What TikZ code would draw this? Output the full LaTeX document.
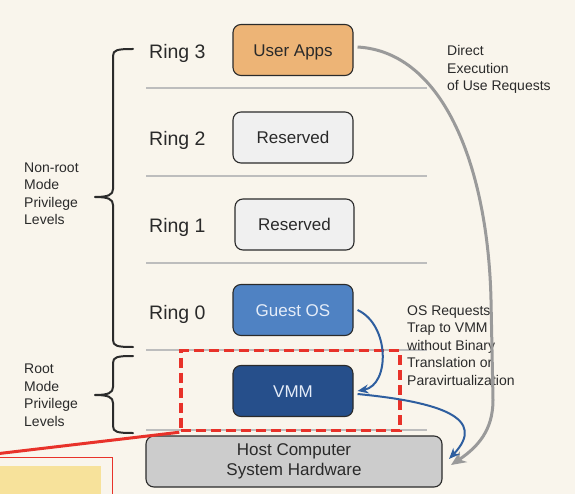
\documentclass[tikz,border=0pt]{standalone}
\usepackage{fontspec}
\setmainfont{Liberation Sans}
\usetikzlibrary{arrows.meta}
\definecolor{bg}{HTML}{F9F5EC}
\definecolor{sepc}{HTML}{BDBDBD}
\definecolor{userc}{HTML}{EDB476}
\definecolor{resc}{HTML}{F0F0F0}
\definecolor{guestc}{HTML}{4F82C3}
\definecolor{vmmc}{HTML}{264F8B}
\definecolor{hostc}{HTML}{CCCCCC}
\definecolor{edgec}{HTML}{2B2B2B}
\definecolor{redc}{HTML}{E8322A}
\definecolor{bluearr}{HTML}{2E5E9F}
\definecolor{grayarr}{HTML}{9A9A9A}
\definecolor{yelc}{HTML}{F7E29B}
\definecolor{txtc}{HTML}{2A2A2A}
\definecolor{lighttxt}{HTML}{E4ECF8}
\begin{document}
\begin{tikzpicture}[x=1pt,y=-1pt,
  ringlbl/.style={anchor=west,inner sep=0pt,text=txtc,font=\fontsize{19.5}{22}\selectfont},
  boxnode/.style={draw=edgec,line width=1.1pt,rounded corners=8pt,minimum width=120pt,minimum height=51pt,inner sep=0pt,font=\fontsize{17}{20}\selectfont,text=txtc},
  onelinebox/.style={boxnode,text height=12.2pt,text depth=0pt},
  sidelbl/.style={anchor=west,inner sep=0pt,align=left,text=txtc,font=\fontsize{14}{17.5}\selectfont},
  sepline/.style={draw=sepc,line width=2pt},
  bracestyle/.style={draw=edgec,line width=2pt,line cap=round,line join=round},
  bluearrow/.style={draw=bluearr,line width=2pt,-{Stealth[length=11pt,width=9pt]}},
  grayarrow/.style={draw=grayarr,line width=3pt,-{Stealth[length=15pt,width=13pt]}}
]
\useasboundingbox (0,0) rectangle (575,494);
\clip (0,0) rectangle (575,494);
\fill[bg] (0,0) rectangle (575,494);

% separator lines
\foreach \yy in {88,176,263,350,430} {\draw[sepline] (146,\yy) -- (427,\yy);}

% ring labels
\node[ringlbl] (r3) at (149,53) {Ring 3};
\node[ringlbl] (r2) at (149,140.5) {Ring 2};
\node[ringlbl] (r1) at (149,227.5) {Ring 1};
\node[ringlbl] (r0) at (149,314.5) {Ring 0};

% boxes
\node[onelinebox,fill=userc] (user) at (293,50) {User Apps};
\node[onelinebox,fill=resc] (res2) at (293,137.5) {Reserved};
\node[onelinebox,fill=resc,minimum width=119pt] (res1) at (294.5,224.5) {Reserved};
\node[onelinebox,fill=guestc,text=lighttxt] (guest) at (293,310) {Guest OS};
\node[onelinebox,fill=vmmc,text=lighttxt] (vmm) at (293,391) {VMM};
\node[boxnode,fill=hostc,minimum width=296pt,align=center] (host) at (294,461.5) {Host Computer\\System Hardware};

% braces
\draw[bracestyle] (133,49) .. controls (117,49) and (113,50) .. (113,56) -- (113,189)
   .. controls (113,195) and (108,197) .. (95,197)
   .. controls (108,197) and (113,199) .. (113,205) -- (113,340)
   .. controls (113,346) and (117,347) .. (133,347);
\draw[bracestyle] (133,356) .. controls (117,356) and (113,357) .. (113,363) -- (113,387)
   .. controls (113,393) and (108,395) .. (95,395)
   .. controls (108,395) and (113,397) .. (113,403) -- (113,426)
   .. controls (113,432) and (117,433) .. (133,433);

% side labels
\node[sidelbl] (nonroot) at (24,194) {Non-root\\Mode\\Privilege\\Levels};
\node[sidelbl] (root) at (24,395) {Root\\Mode\\Privilege\\Levels};
\node[sidelbl] (direct) at (447,69.5) {Direct\\Execution\\of Use Requests};
\node[sidelbl] (osreq) at (407,345.5) {OS Requests\\Trap to VMM\\without Binary\\Translation or\\Paravirtualization};

% red dashed highlight
\node[draw=redc,line width=3.5pt,dash pattern=on 10pt off 5pt,minimum width=219pt,minimum height=80pt,inner sep=0pt] (hl) at (290.5,390.5) {};
\coordinate (redend) at (-5,454);
\draw[redc,line width=3pt] (hl.south west) -- (redend);

% yellow callout (cut off)
\fill[yelc] (0,466) rectangle (101,500);
\draw[redc,line width=1pt] (-3,457.5) -- (112.5,457.5) -- (112.5,500);

% arrows
\coordinate (grayend) at (451,465);
\coordinate (blueend) at (449,459);
\draw[grayarrow] ([xshift=4pt,yshift=3pt]user.east) .. controls (445,52) and (488,170) .. (491,300)
   -- (493,400) .. controls (493,430) and (478,447) .. (grayend);
\draw[bluearrow] ([xshift=4pt]guest.east) .. controls (390,325) and (390,385) .. ([xshift=4pt]vmm.east);
\draw[bluearrow] ([xshift=4pt,yshift=-3pt]vmm.east) .. controls (440,402) and (488,418) .. (blueend);
\end{tikzpicture}
\end{document}
